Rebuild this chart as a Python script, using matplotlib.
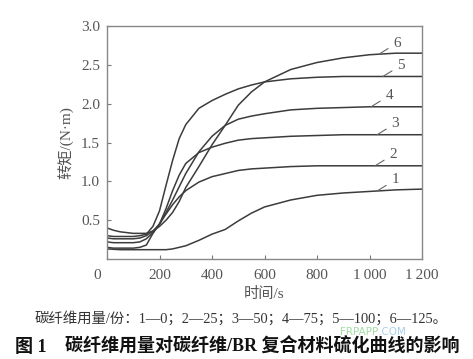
import numpy as np
import matplotlib
matplotlib.use("Agg")
import matplotlib.pyplot as plt
import matplotlib.transforms as mtransforms

plt.rcParams['font.family'] = ['Liberation Serif', 'Noto Sans CJK SC', 'DejaVu Sans']

# ---- data ----
time_s = [0, 25, 50, 75, 100, 125, 150, 175, 200, 225, 250, 275, 300, 350, 400,
          450, 500, 550, 600, 700, 800, 900, 1000, 1100, 1200]
curve1 = [0.13, 0.125, 0.12, 0.12, 0.12, 0.12, 0.12, 0.12, 0.12, 0.12, 0.13, 0.15, 0.17, 0.24, 0.32,
          0.38, 0.49, 0.59, 0.67, 0.76, 0.82, 0.85, 0.87, 0.89, 0.90]
curve2 = [0.15, 0.14, 0.14, 0.14, 0.14, 0.15, 0.18, 0.33, 0.45, 0.58, 0.70, 0.80, 0.88, 0.99, 1.06,
          1.10, 1.14, 1.16, 1.17, 1.19, 1.20, 1.20, 1.20, 1.20, 1.20]
curve3 = [0.22, 0.21, 0.21, 0.21, 0.21, 0.22, 0.26, 0.34, 0.45, 0.65, 0.88, 1.08, 1.23, 1.37, 1.44,
          1.49, 1.53, 1.55, 1.56, 1.58, 1.59, 1.60, 1.60, 1.60, 1.60]
curve4 = [0.27, 0.26, 0.26, 0.26, 0.26, 0.27, 0.30, 0.36, 0.45, 0.60, 0.76, 0.93, 1.10, 1.38, 1.58,
          1.72, 1.80, 1.84, 1.87, 1.92, 1.94, 1.95, 1.96, 1.96, 1.96]
curve5 = [0.30, 0.29, 0.29, 0.29, 0.29, 0.30, 0.32, 0.42, 0.62, 0.95, 1.27, 1.55, 1.73, 1.94, 2.04,
          2.12, 2.19, 2.24, 2.28, 2.32, 2.34, 2.35, 2.35, 2.35, 2.35]
curve6 = [0.40, 0.37, 0.35, 0.34, 0.33, 0.33, 0.33, 0.36, 0.42, 0.50, 0.60, 0.74, 0.92, 1.19, 1.47,
          1.72, 1.98, 2.15, 2.28, 2.44, 2.53, 2.59, 2.63, 2.65, 2.65]
curves = [curve1, curve2, curve3, curve4, curve5, curve6]
curve_labels = ['1', '2', '3', '4', '5', '6']
label_anchor_t = [1029, 1021, 1029, 1006, 1051, 1036]

x_ticks = [0, 200, 400, 600, 800, 1000, 1200]
x_tick_labels = ['0', '200', '400', '600', '800', '1\u2009000', '1\u2009200']
y_ticks = [0.5, 1.0, 1.5, 2.0, 2.5, 3.0]
y_tick_labels = ['0.5', '1.0', '1.5', '2.0', '2.5', '3.0']

line_color = '#3c3c3c'
text_color = '#555555'

fig = plt.figure(figsize=(4.73, 3.59), dpi=100)
ax = fig.add_axes([107/473, 1-259/359, (422-107)/473, (259-26)/359])

for c in curves:
    ax.plot(time_s, c, color=line_color, lw=1.1)

for lab, ta, c in zip(curve_labels, label_anchor_t, curves):
    ya = np.interp(ta, time_s, c)
    ax.annotate(lab, xy=(ta, ya), xytext=(13, 8), textcoords='offset points',
                ha='center', va='center', fontsize=11, color=text_color,
                arrowprops=dict(arrowstyle='-', color='#666666', lw=0.8,
                                shrinkA=2, shrinkB=0))

ax.set_xlim(0, 1200)
ax.set_ylim(0, 3.0)
ax.set_xticks(x_ticks)
ax.set_xticklabels(x_tick_labels)
ax.set_yticks(y_ticks)
ax.set_yticklabels(y_tick_labels)
ax.tick_params(direction='in', length=3, width=0.8, colors='#777777',
               labelcolor=text_color, labelsize=11)
ax.tick_params(axis='x', pad=7)
ax.tick_params(axis='y', pad=5)
for s in ax.spines.values():
    s.set_color('#888888')
    s.set_linewidth(1.0)

# shift the "0" x label left
off = mtransforms.ScaledTranslation(-10/100, 0, fig.dpi_scale_trans)
lbl0 = ax.get_xticklabels()[0]
lbl0.set_transform(lbl0.get_transform() + off)

ax.set_xlabel('时间/s', fontsize=11, color=text_color, labelpad=4)
ax.set_ylabel('转矩/(N·m)', fontsize=11, color=text_color, labelpad=5)

fig.text(35/473, 1-318/359, '碳纤维用量/份：1—0；2—25；3—50；4—75；5—100；6—125。',
         fontsize=10.4, color='#333333', ha='left', va='center')
fig.text(15/473, 1-347/359, '图 1', fontsize=13, color='#111111',
         ha='left', va='center', fontweight='bold')
fig.text(65/473, 1-347/359, '碳纤维用量对碳纤维/BR 复合材料硫化曲线的影响',
         fontsize=13, color='#111111', ha='left', va='center', fontweight='bold')
fig.text(340/473, 1-332/359, 'FRPAPP', fontsize=7.5, color='#7fd07f', alpha=0.7,
         ha='left', va='center', family=['DejaVu Sans'], zorder=0)
fig.text(379/473, 1-332/359, '.COM', fontsize=7.5, color='#88bde0', alpha=0.7,
         ha='left', va='center', family=['DejaVu Sans'], zorder=0)

fig.savefig('out.png', dpi=100)
